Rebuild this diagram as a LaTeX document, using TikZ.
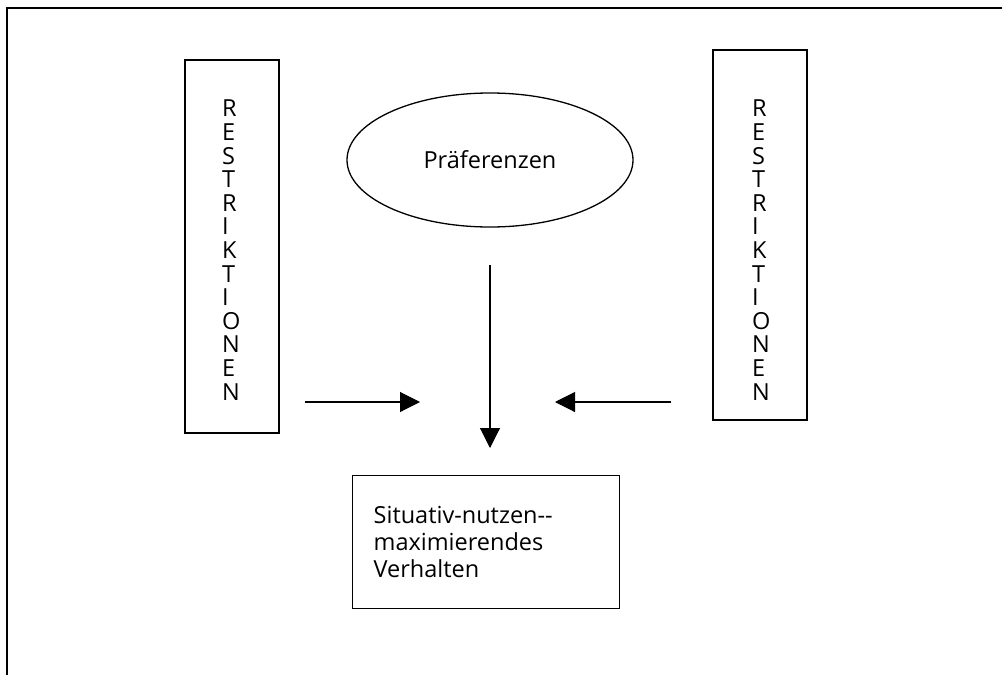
\documentclass[tikz,border=0pt]{standalone}
\usepackage{fontspec}
\setmainfont{Open Sans}
\usetikzlibrary{shapes.geometric,arrows.meta}
\begin{document}
\begin{tikzpicture}[x=1pt,y=-1pt,
  boxline/.style={draw, line width=1.3pt},
  restrbox/.style={boxline, rectangle, minimum width=94pt, inner sep=0pt},
  letters/.style={align=left, inner sep=0pt, font=\fontsize{23.5}{23.6}\selectfont},
  arr/.style={line width=1.1pt, -{Triangle[length=20pt,width=20pt]}},
  every node/.style={font=\fontsize{23.5}{27}\selectfont}
]
\useasboundingbox (0,0) rectangle (1002,675);
% outer frame (cropped)
\draw[line width=2.3pt] (7,675) -- (7,8) -- (1002,8);

% left restriction box
\node[restrbox, minimum height=373pt] (rl) at (232,246.5) {};
\node[letters, anchor=north west] (rlt) at (222,100)
  {R\\E\\S\\T\\R\\I\\K\\T\\I\\O\\N\\E\\N};

% right restriction box
\node[restrbox, minimum height=370pt] (rr) at (760,235) {};
\node[letters, anchor=north west] (rrt) at (752,100)
  {R\\E\\S\\T\\R\\I\\K\\T\\I\\O\\N\\E\\N};

% preferences ellipse
\node[boxline, ellipse, minimum width=286pt, minimum height=134pt, inner sep=0pt] (pref) at (490,160) {Präferenzen};

% behaviour box
\node[boxline, rectangle, minimum width=267pt, minimum height=133pt, inner xsep=21pt, text width=225pt, align=left, anchor=north west] (out) at (352,475)
  {Situativ-nutzen-{}-\\maximierendes\\Verhalten};

% arrows
\coordinate (vs) at (490,265);
\coordinate (ve) at (490,448);
\coordinate (ls) at (305,402);
\coordinate (le) at (420,402);
\coordinate (rs) at (671,402);
\coordinate (re) at (555,402);
\draw[arr] (vs) -- (ve);
\draw[arr] (ls) -- (le);
\draw[arr] (rs) -- (re);
\end{tikzpicture}
\end{document}
